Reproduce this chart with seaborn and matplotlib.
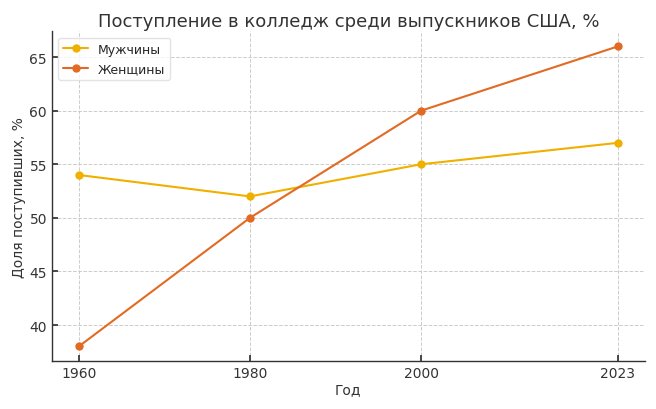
import matplotlib
matplotlib.use("Agg")
import matplotlib.pyplot as plt
import seaborn as sns
import pandas as pd

years = [1960, 1980, 2000, 2023]
men = [54, 52, 55, 57]
women = [38, 50, 60, 66]

df = pd.DataFrame({
    "Год": years * 2,
    "Доля": men + women,
    "Пол": ["Мужчины"] * 4 + ["Женщины"] * 4,
})

sns.set_theme(style="white")
plt.rcParams['font.family'] = ['DejaVu Sans']

fig = plt.figure(figsize=(6.56, 4.10), dpi=100)
ax = fig.add_axes([0.079, 0.116, 0.904, 0.805])

sns.lineplot(data=df, x="Год", y="Доля", hue="Пол",
             palette={"Мужчины": "#f0b000", "Женщины": "#e26a22"},
             marker="o", markersize=6, markeredgewidth=0, linewidth=1.5, ax=ax)

ax.set_xticks(years)
ax.set_xticklabels([str(y) for y in years])
ax.set_title("Поступление в колледж среди выпускников США, %", fontsize=13, color="#333333", pad=4)
ax.set_xlabel("Год", fontsize=10, color="#333333", labelpad=1.5)
ax.set_ylabel("Доля поступивших, %", fontsize=10, color="#333333", labelpad=2.5)
ax.grid(True, linestyle="--", color="#cccccc", linewidth=0.7)
ax.tick_params(direction="in", length=4, labelsize=10, colors="#333333", left=True, bottom=True)
for s in ["top", "right"]:
    ax.spines[s].set_visible(False)
for s in ["left", "bottom"]:
    ax.spines[s].set_color("#333333")
    ax.spines[s].set_linewidth(1.0)
leg = ax.legend(loc="upper left", fontsize=9, frameon=True)
leg.get_frame().set_edgecolor("#dddddd")

fig.savefig("out.png", dpi=100)
